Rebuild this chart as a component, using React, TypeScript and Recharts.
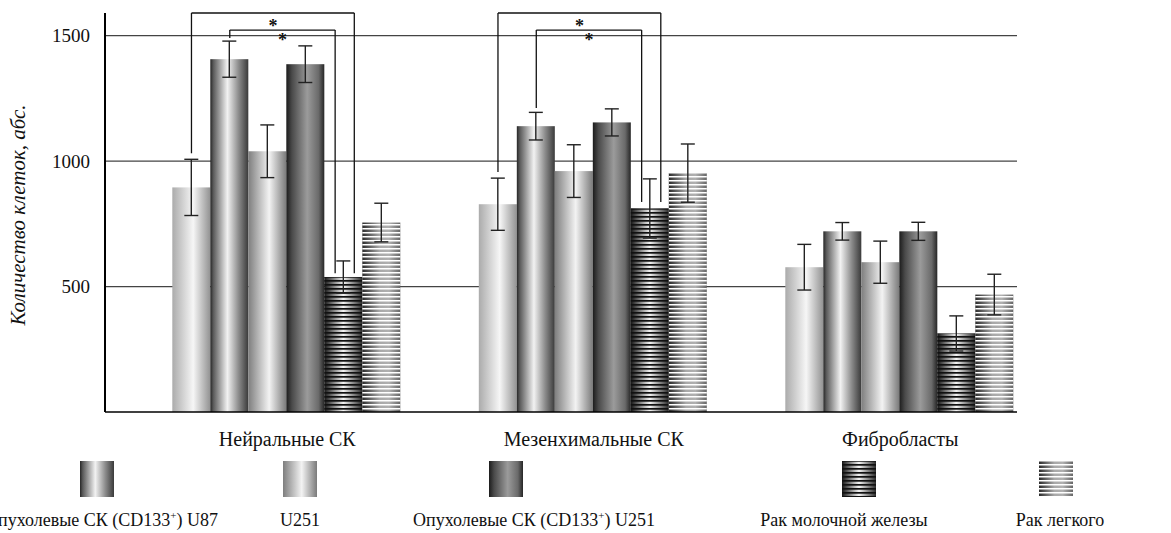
import React from 'react';
import { BarChart, Bar, XAxis, YAxis, CartesianGrid, ErrorBar, ReferenceLine, ReferenceDot } from 'recharts';

// ---- data ----
const categories = ['Нейральные СК', 'Мезенхимальные СК', 'Фибробласты'];
const seriesNames = [
  'U87',
  'Опухолевые СК (CD133+) U87',
  'U251',
  'Опухолевые СК (CD133+) U251',
  'Рак молочной железы',
  'Рак легкого',
];
const u87 = [895, 828, 577];
const u87Err = [112, 104, 91];
const cd133U87 = [1406, 1139, 720];
const cd133U87Err = [72, 55, 35];
const u251 = [1039, 960, 597];
const u251Err = [105, 105, 84];
const cd133U251 = [1386, 1154, 720];
const cd133U251Err = [73, 54, 36];
const breast = [538, 811, 313];
const breastErr = [64, 118, 70];
const lung = [755, 952, 468];
const lungErr = [77, 116, 81];
const yTicks = [500, 1000, 1500];
const yMax = 1590;

// significance brackets: group, left bar index, right side of bar 5, top value, leg end values, star value
const bracketGroups = [0, 0, 1, 1];
const bracketLeftBar = [0, 1, 0, 1];
const bracketRightSide = [1, -1, 1, -1];
const bracketTop = [1590, 1522, 1590, 1522];
const bracketLeftEnd = [1031, 1490, 956, 1211];
const bracketRightEnd = [553, 553, 837, 837];
const starY = [1556, 1498, 1556, 1498];

const values = [u87, cd133U87, u251, cd133U251, breast, lung];
const errors = [u87Err, cd133U87Err, u251Err, cd133U251Err, breastErr, lungErr];

const data = categories.map((c, i) => {
  const row: any = { name: c, pos: i + 0.5 };
  values.forEach((v, s) => {
    row['v' + s] = v[i];
    row['e' + s] = errors[s][i];
  });
  return row;
});

// ---- styles ----
const FONT = '"Liberation Serif", "DejaVu Serif", serif';
const gradIds = ['gU87', 'gCD87', 'gU251', 'gCD251', 'gBreast', 'gLung'];
const stripeIds = [null, null, null, null, 'sDark', 'sLight'];
const legendCenters = [97, 300, 506, 859, 1056];
const legendText = [
  { x: 218, anchor: 'end' },
  { x: 300, anchor: 'middle' },
  { x: 413, anchor: 'start' },
  { x: 844, anchor: 'middle' },
  { x: 1060, anchor: 'middle' },
];

const makeShape = (s: number) => (props: any) => {
  const { x, y, width, height } = props;
  if (!height || height <= 0) return <g />;
  return (
    <g>
      <rect x={x} y={y} width={width} height={height} fill={`url(#${gradIds[s]})`} />
      {stripeIds[s] && <rect x={x} y={y} width={width} height={height} fill={`url(#${stripeIds[s]})`} />}
    </g>
  );
};

function renderName(name: string) {
  const idx = name.indexOf('CD133+');
  if (idx < 0) return name;
  const before = name.slice(0, idx + 5);
  const after = name.slice(idx + 6);
  return (
    <>
      <tspan>{before}</tspan>
      <tspan dy={-7} fontSize={11}>+</tspan>
      <tspan dy={7}>{after}</tspan>
    </>
  );
}

function Defs() {
  return (
    <defs>
      <linearGradient id="gU87" x1="0" y1="0" x2="1" y2="0">
        <stop offset="0" stopColor="#ababab" />
        <stop offset="0.55" stopColor="#f6f6f6" />
        <stop offset="1" stopColor="#929292" />
      </linearGradient>
      <linearGradient id="gCD87" x1="0" y1="0" x2="1" y2="0">
        <stop offset="0" stopColor="#262626" />
        <stop offset="0.08" stopColor="#5a5a5a" />
        <stop offset="0.45" stopColor="#f2f2f2" />
        <stop offset="0.75" stopColor="#8a8a8a" />
        <stop offset="1" stopColor="#3a3a3a" />
      </linearGradient>
      <linearGradient id="gU251" x1="0" y1="0" x2="1" y2="0">
        <stop offset="0" stopColor="#7e7e7e" />
        <stop offset="0.55" stopColor="#f3f3f3" />
        <stop offset="1" stopColor="#7a7a7a" />
      </linearGradient>
      <linearGradient id="gCD251" x1="0" y1="0" x2="1" y2="0">
        <stop offset="0" stopColor="#1c1c1c" />
        <stop offset="0.15" stopColor="#4a4a4a" />
        <stop offset="0.55" stopColor="#9b9b9b" />
        <stop offset="0.85" stopColor="#6a6a6a" />
        <stop offset="1" stopColor="#262626" />
      </linearGradient>
      <linearGradient id="gBreast" x1="0" y1="0" x2="1" y2="0">
        <stop offset="0" stopColor="#151515" />
        <stop offset="0.5" stopColor="#f4f4f4" />
        <stop offset="1" stopColor="#2a2a2a" />
      </linearGradient>
      <linearGradient id="gLung" x1="0" y1="0" x2="1" y2="0">
        <stop offset="0" stopColor="#2a2a2a" />
        <stop offset="0.45" stopColor="#a8a8a8" />
        <stop offset="0.7" stopColor="#b0b0b0" />
        <stop offset="1" stopColor="#666666" />
      </linearGradient>
      <pattern id="sDark" patternUnits="userSpaceOnUse" width="8" height="4">
        <rect x="0" y="0" width="8" height="1.7" fill="#111" />
      </pattern>
      <pattern id="sLight" patternUnits="userSpaceOnUse" width="8" height="4">
        <rect x="0" y="0" width="8" height="1.5" fill="#fff" />
      </pattern>
    </defs>
  );
}

function LegendRow() {
  return (
    <g>
      {seriesNames.slice(1).map((n, k) => {
        const s = k + 1;
        const cx = legendCenters[k];
        const Shape = makeShape(s);
        return (
          <g key={n}>
            <Shape x={cx - 17} y={461} width={34} height={36} />
            <text
              x={legendText[k].x}
              y={526}
              textAnchor={legendText[k].anchor as any}
              fontFamily={FONT}
              fontSize={18}
              fill="#111"
            >
              {renderName(n)}
            </text>
          </g>
        );
      })}
    </g>
  );
}

function YLabel() {
  return (
    <text
      x={20}
      y={215}
      transform="rotate(-90 20 215)"
      textAnchor="middle"
      dominantBaseline="middle"
      fontFamily={FONT}
      fontStyle="italic"
      fontSize={21}
      fill="#111"
    >
      Количество клеток, абс.
    </text>
  );
}

const barCenter = (g: number, j: number) => g + (1.5 + j) / 8;
const PADDING = { left: 29, right: -36.5 };

export default function App() {
  const lines: any[] = [];
  const stars: any[] = [];
  bracketGroups.forEach((g, b) => {
    const xl = barCenter(g, bracketLeftBar[b]);
    const xr = barCenter(g, 4) + bracketRightSide[b] / 32;
    const top = bracketTop[b];
    const st = { stroke: '#111', strokeWidth: 1.3, ifOverflow: 'visible' as any, xAxisId: 'pos' };
    lines.push(<ReferenceLine key={'l' + b} {...st} segment={[{ x: xl, y: bracketLeftEnd[b] }, { x: xl, y: top }]} />);
    lines.push(<ReferenceLine key={'t' + b} {...st} segment={[{ x: xl, y: top }, { x: xr, y: top }]} />);
    lines.push(<ReferenceLine key={'r' + b} {...st} segment={[{ x: xr, y: top }, { x: xr, y: bracketRightEnd[b] }]} />);
    stars.push(
      <ReferenceDot
        key={'s' + b}
        xAxisId="pos"
        x={(xl + xr) / 2}
        y={starY[b]}
        r={0}
        ifOverflow="visible"
        shape={(p: any) => (
          <text x={p.cx} y={p.cy + 10} textAnchor="middle" fontFamily={FONT} fontWeight="bold" fontSize={18} fill="#111">
            *
          </text>
        )}
      />
    );
  });

  return (
    <div style={{ position: 'absolute', left: 0, top: 0 }}>
      <BarChart
        width={1171}
        height={533}
        data={data}
        margin={{ top: 13, right: 154, bottom: 0, left: 0 }}
        barCategoryGap="12.5%"
        barGap={0}
      >
        <Defs />
        <CartesianGrid vertical={false} horizontalValues={yTicks} stroke="#444" strokeWidth={1.2} />
        <XAxis
          dataKey="name"
          height={121}
          padding={PADDING}
          tickLine={false}
          tickSize={0}
          tickMargin={20}
          axisLine={{ stroke: '#000', strokeWidth: 1.6 }}
          tick={{ fontFamily: FONT, fontSize: 20, fill: '#111' }}
        />
        <XAxis xAxisId="pos" dataKey="pos" type="number" domain={[0, 3]} hide padding={PADDING} allowDataOverflow />
        <YAxis
          width={105}
          domain={[0, yMax]}
          ticks={yTicks}
          allowDataOverflow
          tickLine={false}
          tickSize={0}
          tickMargin={15}
          axisLine={{ stroke: '#000', strokeWidth: 2 }}
          tick={{ fontFamily: FONT, fontSize: 19, fill: '#111' }}
        />
        {values.map((_, s) => (
          <Bar key={s} dataKey={'v' + s} name={seriesNames[s]} shape={makeShape(s)} isAnimationActive={false}>
            <ErrorBar dataKey={'e' + s} width={7} stroke="#222" strokeWidth={1.4} direction="y" />
          </Bar>
        ))}
        {lines}
        {stars}
        <LegendRow />
        <YLabel />
      </BarChart>
    </div>
  );
}
